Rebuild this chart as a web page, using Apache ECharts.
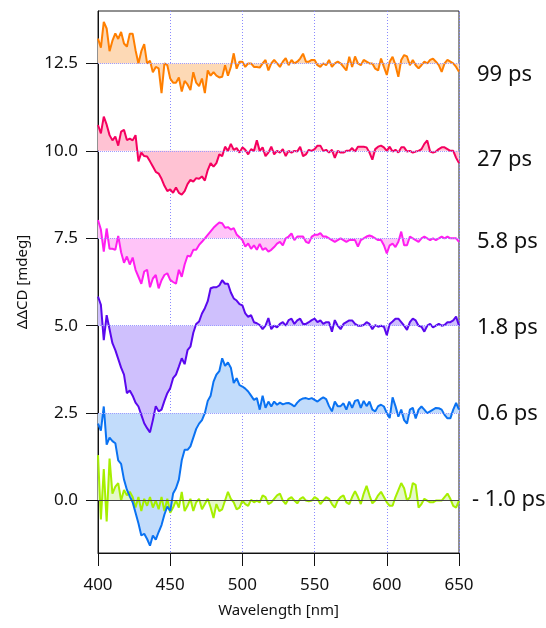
<!DOCTYPE html>
<html lang="en">
<head>
    <meta charset="UTF-8">
    <title>ΔΔCD spectra</title>
    <script src="https://cdn.jsdelivr.net/npm/echarts@6/dist/echarts.min.js"></script>
    <style>
        html, body { margin: 0; padding: 0; background: #fff; }
    </style>
</head>
<body>
<div id="main" style="width: 546px; height: 628px;"></div>
<script>
    // wavelength grid, nm
    var wl = [];
    for (var w = 400; w <= 650; w += 2) wl.push(w);

    var delays = ['99 ps', '27 ps', '5.8 ps', '1.8 ps', '0.6 ps', '- 1.0 ps'];
    var offsets = [12.5, 10, 7.5, 5, 2.5, 0];
    var yTicks = [0, 2.5, 5, 7.5, 10, 12.5];

    // ΔΔCD signal (mdeg), relative to each trace's offset
    var s99 = [
        0.71, 0.45, 1.19, 1.00, 0.35, 0.65, 0.86, 0.70, 0.90, 0.57,
        0.48, 0.85, 0.85, 0.38, 0.00, 0.35, 0.55, 0.00, 0.08, -0.25,
        -0.10, -0.14, -0.85, 0.00, -0.05, -0.43, -0.55, -0.55, -0.40, -0.80,
        -0.50, -0.60, -0.76, -0.25, -0.55, -0.65, -0.43, -0.85, -0.20, -0.35,
        -0.25, -0.35, -0.40, -0.38, -0.05, -0.35, -0.10, 0.29, -0.15, 0.05,
        0.05, -0.10, 0.00, 0.00, -0.10, -0.10, -0.12, 0.00, 0.10, -0.20,
        0.00, 0.10, 0.00, -0.10, 0.05, 0.15, -0.05, 0.10, 0.00, 0.05,
        0.14, 0.28, 0.05, 0.05, 0.10, 0.10, -0.05, -0.10, 0.00, -0.05,
        0.10, -0.10, 0.00, 0.05, 0.00, -0.10, -0.20, 0.19, -0.10, 0.20,
        0.00, -0.05, 0.10, 0.05, 0.00, 0.00, -0.15, -0.20, 0.14, -0.10,
        -0.33, 0.05, 0.19, -0.05, -0.38, 0.10, 0.24, 0.20, -0.05, 0.10,
        -0.05, -0.14, -0.05, 0.05, 0.00, 0.10, 0.14, 0.05, -0.05, -0.24,
        0.00, 0.10, 0.05, 0.00, -0.10, -0.24
    ];
    var s27 = [
        0.74, 0.50, 0.98, 0.75, 0.45, 0.30, 0.41, 0.15, 0.55, 0.60,
        0.31, 0.35, 0.30, 0.45, -0.30, -0.05, -0.15, -0.16, -0.30, -0.45,
        -0.60, -0.65, -0.80, -1.00, -1.15, -1.10, -1.20, -1.05, -1.20, -1.25,
        -1.15, -0.95, -0.83, -0.88, -0.78, -0.80, -0.73, -0.85, -0.55, -0.35,
        -0.45, -0.35, -0.10, -0.15, 0.12, 0.00, 0.20, 0.03, 0.08, -0.05,
        0.10, 0.03, -0.10, 0.05, 0.00, 0.30, 0.00, 0.10, -0.15, -0.05,
        0.12, -0.10, 0.00, -0.05, 0.05, -0.15, 0.00, -0.05, 0.00, -0.02,
        0.12, -0.15, -0.10, 0.03, 0.00, 0.05, 0.15, 0.15, 0.00, 0.03,
        -0.05, 0.03, -0.20, 0.00, -0.05, -0.05, 0.00, 0.00, 0.08, -0.02,
        0.12, 0.12, 0.12, 0.10, -0.05, -0.25, 0.05, 0.12, 0.15, 0.10,
        0.00, 0.12, -0.02, 0.03, -0.05, 0.10, 0.10, -0.02, 0.00, -0.05,
        -0.02, 0.00, 0.05, 0.20, 0.30, -0.02, -0.05, -0.02, 0.05, 0.10,
        0.10, 0.05, 0.00, 0.00, -0.20, -0.35
    ];
    var s58 = [
        0.52, 0.25, -0.38, 0.28, -0.30, -0.30, -0.33, 0.07, -0.40, -0.70,
        -0.52, -0.75, -0.55, -0.90, -1.10, -1.30, -0.95, -0.90, -1.40, -1.15,
        -1.05, -1.43, -1.20, -1.05, -1.00, -1.19, -1.25, -1.30, -0.90, -1.10,
        -0.75, -0.50, -0.52, -0.33, -0.33, -0.19, -0.10, 0.00, 0.10, 0.20,
        0.30, 0.38, 0.45, 0.43, 0.30, 0.32, 0.25, 0.29, 0.11, 0.03,
        -0.05, -0.24, -0.15, -0.30, -0.20, -0.33, -0.16, -0.33, -0.28, -0.38,
        -0.33, -0.25, -0.15, -0.10, -0.20, 0.00, 0.05, 0.14, -0.05, 0.05,
        0.05, 0.05, -0.10, -0.14, 0.05, 0.10, 0.10, 0.15, 0.05, 0.05,
        0.00, -0.05, -0.10, -0.05, 0.00, -0.05, -0.10, -0.05, -0.05, -0.05,
        -0.24, -0.05, 0.00, 0.05, 0.08, 0.05, 0.00, -0.05, -0.05, -0.20,
        -0.43, -0.20, -0.15, -0.25, -0.10, 0.19, -0.20, -0.20, 0.05, 0.00,
        -0.05, -0.10, 0.00, 0.05, 0.00, -0.05, 0.00, -0.05, 0.00, 0.05,
        0.00, 0.05, 0.00, 0.00, 0.00, -0.10
    ];
    var s18 = [
        0.83, 0.60, -0.41, 0.30, -0.10, -0.50, -0.70, -0.95, -1.20, -1.40,
        -1.93, -1.85, -2.00, -2.20, -2.31, -2.55, -2.79, -2.93, -3.05, -2.70,
        -2.30, -2.45, -2.40, -2.15, -1.93, -1.79, -1.50, -1.40, -1.17, -0.93,
        -1.10, -0.70, -0.60, -0.20, 0.05, 0.12, 0.35, 0.50, 0.70, 1.07,
        1.10, 1.10, 1.15, 1.30, 1.20, 1.20, 0.95, 0.78, 0.72, 0.62,
        0.58, 0.35, 0.25, 0.30, 0.10, 0.07, 0.02, -0.10, 0.00, 0.22,
        -0.10, 0.00, -0.05, 0.05, 0.10, 0.00, 0.16, 0.20, 0.05, 0.15,
        0.20, 0.05, 0.05, 0.10, 0.16, 0.20, 0.10, 0.15, 0.05, 0.10,
        0.10, -0.17, 0.16, 0.00, -0.10, 0.05, 0.10, 0.15, 0.15, 0.05,
        0.00, 0.00, 0.02, 0.10, 0.05, -0.10, 0.02, -0.03, 0.00, -0.03,
        -0.27, 0.05, 0.12, 0.20, 0.20, 0.10, 0.00, -0.12, 0.10, 0.20,
        0.15, 0.00, -0.03, -0.17, 0.00, 0.05, -0.05, 0.00, 0.05, 0.00,
        0.02, 0.10, 0.10, 0.15, 0.26, 0.00
    ];
    var s06 = [
        -0.30, -0.50, 0.19, -0.90, -0.70, -0.80, -0.86, -1.35, -1.45, -1.90,
        -2.19, -2.38, -2.55, -2.85, -3.15, -3.50, -3.45, -3.60, -3.79, -3.50,
        -3.62, -3.40, -3.20, -2.90, -2.67, -2.80, -2.30, -2.15, -1.90, -1.35,
        -1.05, -1.05, -0.95, -0.70, -0.45, -0.30, -0.20, 0.00, 0.35, 0.50,
        0.90, 1.10, 1.20, 1.57, 1.35, 1.45, 1.30, 0.86, 1.00, 0.80,
        0.76, 0.70, 0.62, 0.50, 0.38, 0.43, 0.10, 0.50, 0.15, 0.33,
        0.19, 0.33, 0.24, 0.30, 0.25, 0.28, 0.29, 0.25, 0.19, 0.30,
        0.38, 0.42, 0.43, 0.40, 0.43, 0.38, 0.33, 0.40, 0.45, 0.40,
        0.20, 0.05, 0.33, 0.20, 0.20, 0.28, 0.10, 0.33, 0.15, 0.35,
        0.38, 0.15, 0.35, 0.20, 0.33, 0.10, 0.05, 0.20, 0.24, 0.19,
        0.00, -0.14, 0.45, 0.20, -0.10, 0.10, -0.20, -0.30, 0.10, 0.15,
        -0.15, 0.10, 0.19, 0.10, 0.00, 0.05, 0.10, 0.15, 0.14, 0.10,
        -0.05, -0.15, -0.15, 0.10, 0.29, 0.10
    ];
    var sm10 = [
        1.30, -0.54, 0.90, -0.60, 1.20, 0.20, 0.40, 0.50, 0.00, 0.30,
        0.15, 0.25, 0.10, -0.20, 0.10, -0.30, 0.05, -0.15, 0.10, -0.20,
        0.00, -0.25, 0.10, -0.30, 0.05, -0.35, -0.20, 0.00, -0.20, 0.25,
        -0.30, -0.15, 0.05, -0.30, -0.05, 0.05, -0.25, -0.10, 0.05, -0.20,
        -0.50, -0.10, -0.30, -0.25, 0.00, 0.25, 0.05, -0.05, -0.25, -0.20,
        0.00, -0.10, -0.15, 0.02, -0.05, 0.00, -0.05, 0.15, 0.10, -0.10,
        -0.05, 0.05, 0.15, 0.20, 0.00, -0.10, 0.05, 0.10, 0.00, -0.08,
        0.05, 0.10, 0.00, -0.02, 0.00, 0.10, 0.05, -0.10, 0.00, 0.10,
        0.05, -0.10, -0.20, 0.00, 0.10, 0.15, -0.05, -0.10, 0.10, 0.27,
        0.10, -0.10, 0.20, 0.42, 0.15, -0.08, 0.00, 0.15, 0.25, 0.10,
        -0.05, -0.15, -0.15, 0.10, 0.30, 0.50, 0.35, 0.00, 0.10, 0.50,
        0.45, -0.20, -0.10, 0.05, 0.00, -0.05, -0.05, 0.00, 0.00, 0.00,
        0.10, 0.20, 0.05, -0.15, -0.20, 0.00
    ];
    var signals = [s99, s27, s58, s18, s06, sm10];

    var lineColors = ['#ff7f00', '#f5005f', '#ff1ef0', '#5a08ee', '#0a72f2', '#a6ef00'];
    var fillColors = ['#fdd9b5', '#ffc2d3', '#ffc4f8', '#cfc0fd', '#c2dcfb', '#e5f8c8'];
    var labelY = [75, 160, 242, 328, 414, 500];
    var font = '"Noto Sans", "Open Sans", sans-serif';

    var myChart = echarts.init(document.getElementById('main'));

    function traceData(k) {
        var res = [];
        for (var i = 0; i < wl.length; i++) {
            res.push([wl[i], offsets[k] + signals[k][i]]);
        }
        return res;
    }

    var series = [];
    // filled areas first, lowest trace first so upper fills sit on top
    for (var k = signals.length - 1; k >= 0; k--) {
        var zero = offsets[k] === 0;
        series.push({
            type: 'line',
            data: traceData(k),
            showSymbol: false,
            silent: true,
            z: 1,
            lineStyle: {width: 0},
            areaStyle: {color: fillColors[k], opacity: 1, origin: offsets[k]},
            markLine: {
                silent: true,
                symbol: 'none',
                label: {show: false},
                lineStyle: {
                    color: zero ? '#444' : '#9c9cff',
                    type: zero ? 'solid' : 'dotted',
                    width: 1
                },
                data: [{yAxis: offsets[k]}]
            }
        });
    }
    // then the traces
    for (var k = signals.length - 1; k >= 0; k--) {
        series.push({
            type: 'line',
            data: traceData(k),
            showSymbol: false,
            silent: true,
            z: 3,
            lineStyle: {width: 2, color: lineColors[k]}
        });
    }

    var graphics = [];
    for (var k = 0; k < delays.length; k++) {
        graphics.push({
            type: 'text',
            x: k === delays.length - 1 ? 472 : 477,
            y: labelY[k],
            style: {
                text: delays[k],
                font: '22px ' + font,
                fill: '#111',
                verticalAlign: 'middle'
            }
        });
    }

    option = {
        animation: false,
        backgroundColor: '#fff',
        grid: {
            left: 98, right: 87, top: 11, bottom: 75,
            show: true,
            borderColor: '#222',
            borderWidth: 1
        },
        xAxis: {
            type: 'value',
            min: 400,
            max: 650,
            interval: 50,
            name: 'Wavelength [nm]',
            nameLocation: 'middle',
            nameGap: 50,
            nameTextStyle: {fontSize: 15, color: '#111', fontFamily: font},
            axisLine: {show: true, onZero: false, lineStyle: {color: '#111', width: 1}},
            axisTick: {show: true, inside: false, length: 13, lineStyle: {color: '#111'}},
            axisLabel: {fontSize: 17, color: '#111', fontFamily: font, margin: 24},
            splitLine: {show: true, lineStyle: {color: '#8a8aff', type: [1, 2], width: 1}}
        },
        yAxis: {
            type: 'value',
            min: -1.5,
            max: 14,
            name: 'ΔΔCD [mdeg]',
            nameLocation: 'middle',
            nameGap: 68,
            nameTextStyle: {fontSize: 15, color: '#111', fontFamily: font},
            axisLine: {show: true, onZero: false, lineStyle: {color: '#111', width: 1}},
            axisTick: {show: true, inside: false, length: 12, customValues: yTicks, lineStyle: {color: '#111'}},
            axisLabel: {
                fontSize: 17, color: '#111', fontFamily: font, margin: 20,
                customValues: yTicks,
                formatter: function (v) { return v.toFixed(1); }
            },
            splitLine: {show: false}
        },
        graphic: graphics,
        series: series
    };
    myChart.setOption(option);
</script>
</body>
</html>
